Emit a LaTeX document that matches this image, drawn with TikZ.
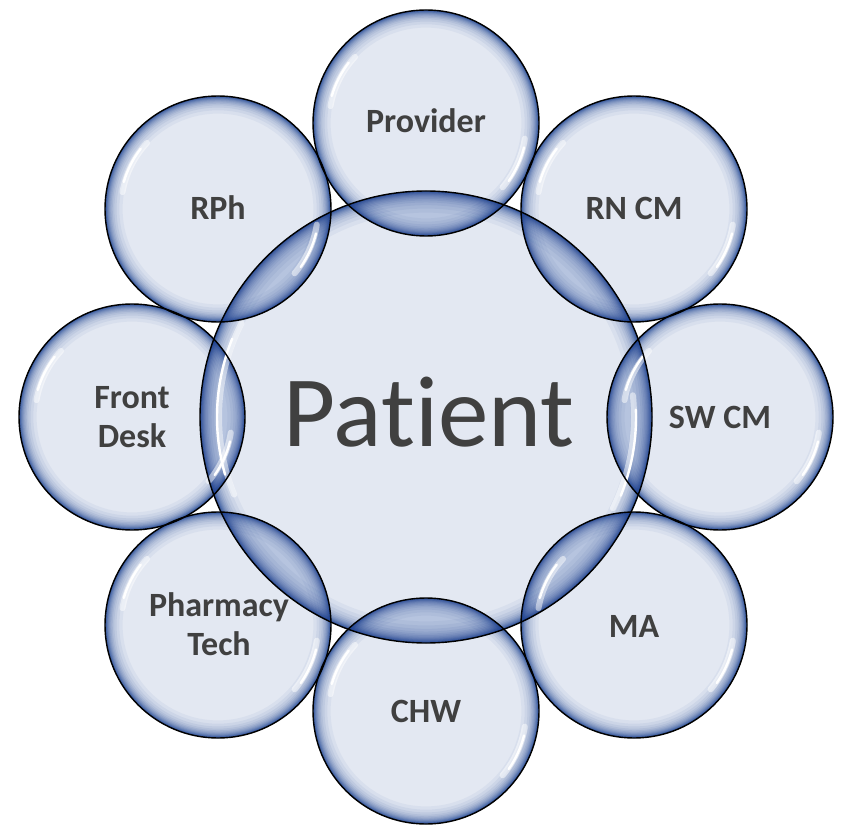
\documentclass[tikz,border=0pt]{standalone}
\usepackage{fontspec}
\setmainfont{Carlito}[Ligatures=NoCommon]
\definecolor{bublight}{HTML}{E3E8F2}
\definecolor{bubD}{HTML}{1A3F90}
\definecolor{lensblue}{HTML}{2B52A3}
\definecolor{txtgrey}{HTML}{404040}
\tikzset{
  ring/.style={circle, inner sep=0pt, outer sep=0pt, draw=black, line width=0.7pt},
  lbl/.style={text=txtgrey, font=\fontsize{17}{19.5}\selectfont\bfseries, inner sep=0pt, anchor=base},
  bigl/.style={text=txtgrey, font=\fontsize{50.5}{60}\selectfont, inner sep=0pt, anchor=base},
  glintsoft/.style={draw=white, line width=3pt, draw opacity=0.5, line cap=round},
  glintbright/.style={draw=white, line width=1.2pt, draw opacity=1, line cap=round}
}
\begin{document}
\begin{tikzpicture}[x=0.5pt,y=0.5pt]
\useasboundingbox (0,0) rectangle (844,825);
\coordinate (cpat)  at (426,408);
\coordinate (cprov) at (426,702);
\coordinate (crn)   at (634,616);
\coordinate (csw)   at (720,408);
\coordinate (cma)   at (634,200);
\coordinate (cchw)  at (426,114);
\coordinate (cpt)   at (218,200);
\coordinate (cfd)   at (132,408);
\coordinate (crph)  at (218,616);
% base fills
\foreach \n/\r in {pat/226,prov/113,rn/113,sw/113,ma/113,chw/113,pt/113,fd/113,rph/113}
  \fill[bublight] (c\n) circle[radius=\r];
% lens tints
\begin{scope}
  \clip (cpat) circle[radius=226];
  \foreach \n in {prov,rn,sw,ma,chw,pt,fd,rph}
    \fill[lensblue, fill opacity=0.24] (c\n) circle[radius=113];
\end{scope}
% rims
\foreach \n/\r/\s in {pat/226/1.35,prov/113/1.1,rn/113/1.1,sw/113/1.1,ma/113/1.1,chw/113/1.1,pt/113/1.1,fd/113/1.1,rph/113/1.1}{
  \foreach \d/\o in {16/0.05,13/0.06,10.5/0.07,8.5/0.08,7/0.09,5.8/0.10,4.7/0.11,3.8/0.13,3/0.15,2.3/0.18,1.6/0.24,0.9/0.4}{
    \fill[bubD, fill opacity=\o, even odd rule] (c\n) circle[radius=\r] (c\n) circle[radius=\r-\s*\d];
  }
}
% glints on outer bubbles
\foreach \n in {prov,rn,sw,ma,chw,pt,fd,rph}{
  \draw[glintsoft]   ([shift={(137:97)}]c\n) arc[start angle=137, end angle=170, radius=97];
  \draw[glintbright] ([shift={(142:98)}]c\n) arc[start angle=142, end angle=164, radius=98];
  \draw[glintsoft]   ([shift={(-40:100)}]c\n) arc[start angle=-40, end angle=-9, radius=100];
  \draw[glintbright] ([shift={(-35:101)}]c\n) arc[start angle=-35, end angle=-14, radius=101];
}
% glints on central bubble
\draw[glintsoft]   ([shift={(153:207)}]cpat) arc[start angle=153, end angle=202, radius=207];
\draw[glintbright] ([shift={(158:209)}]cpat) arc[start angle=158, end angle=196, radius=209];
\draw[glintsoft]   ([shift={(-26:208)}]cpat) arc[start angle=-26, end angle=6, radius=208];
\draw[glintbright] ([shift={(-22:210)}]cpat) arc[start angle=-22, end angle=2, radius=210];
% outlines (named circle nodes)
\node[ring, minimum size=226pt] (pat) at (cpat) {};
\node[ring, minimum size=113pt] (prov) at (cprov) {};
\node[ring, minimum size=113pt] (rn)   at (crn) {};
\node[ring, minimum size=113pt] (sw)   at (csw) {};
\node[ring, minimum size=113pt] (ma)   at (cma) {};
\node[ring, minimum size=113pt] (chw)  at (cchw) {};
\node[ring, minimum size=113pt] (pt)   at (cpt) {};
\node[ring, minimum size=113pt] (fd)   at (cfd) {};
\node[ring, minimum size=113pt] (rph)  at (crph) {};
% labels
\node[bigl] (tpat) at (429,379) {Patient};
\node[lbl] (tprov) at (426,692) {Provider};
\node[lbl] (trn)   at (634,605) {RN CM};
\node[lbl] (tsw)   at (720,397) {SW CM};
\node[lbl] (tma)   at (634,188) {MA};
\node[lbl] (tchw)  at (426,103) {CHW};
\node[lbl] (trph)  at (218,605) {RPh};
\node[lbl] (tfd)   at (132,378) {\begin{tabular}[b]{@{}c@{}}Front\\Desk\end{tabular}};
\node[lbl] (tpt)   at (219,170) {\begin{tabular}[b]{@{}c@{}}Pharmacy\\Tech\end{tabular}};
\end{tikzpicture}
\end{document}
